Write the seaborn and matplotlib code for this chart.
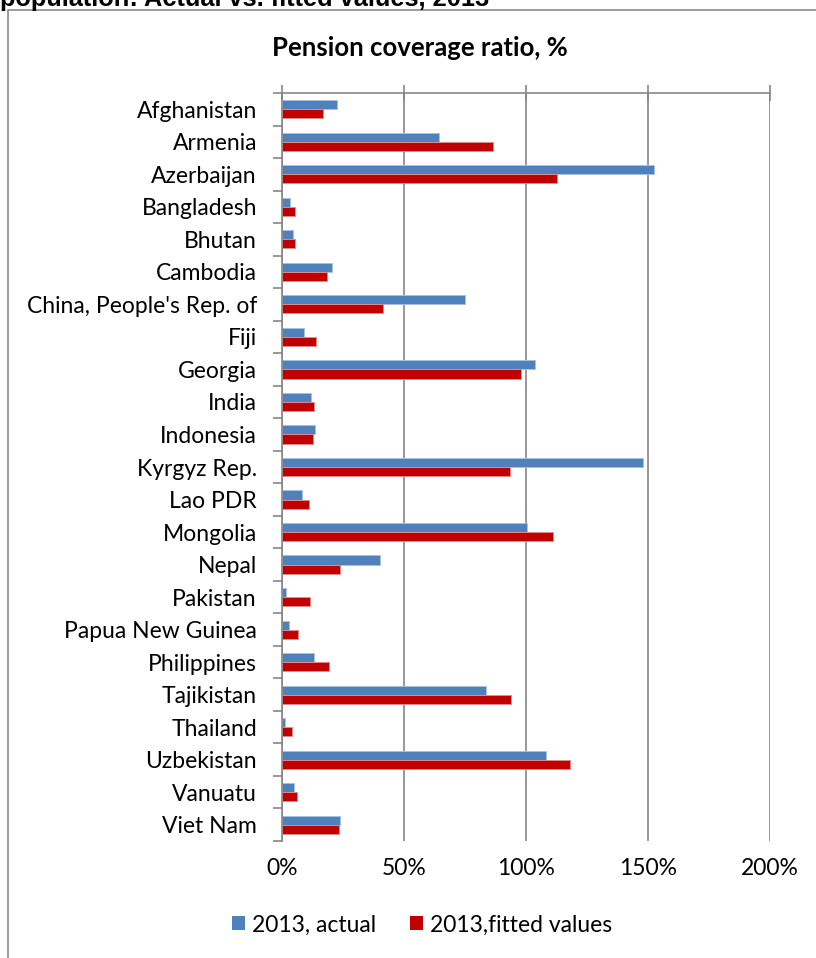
import matplotlib
matplotlib.use("Agg")
import matplotlib.pyplot as plt
import seaborn as sns
import pandas as pd
from matplotlib.patches import Patch, Rectangle
from matplotlib.ticker import FixedLocator

# Pension coverage ratio (%) by country, 2013
countries = [
    "Afghanistan", "Armenia", "Azerbaijan", "Bangladesh", "Bhutan", "Cambodia",
    "China, People's Rep. of", "Fiji", "Georgia", "India", "Indonesia",
    "Kyrgyz Rep.", "Lao PDR", "Mongolia", "Nepal", "Pakistan",
    "Papua New Guinea", "Philippines", "Tajikistan", "Thailand", "Uzbekistan",
    "Vanuatu", "Viet Nam",
]
actual = [22.7, 64.2, 152.6, 3.3, 4.7, 20.3, 75.1, 9.0, 103.5, 12.0, 13.5,
          147.9, 8.0, 100.6, 40.3, 1.7, 2.8, 13.0, 83.8, 1.1, 108.1, 4.8, 23.6]
fitted = [16.7, 86.5, 112.7, 5.4, 5.5, 18.4, 41.2, 13.9, 98.0, 13.2, 12.5,
          93.3, 11.2, 111.1, 23.8, 11.4, 6.4, 19.1, 93.7, 4.1, 118.1, 6.0, 23.3]
series_names = ["2013, actual", "2013,fitted values"]
series_colors = ["#4F81BD", "#C00000"]
edge_colors = ["#A9C1DF", "#E38A8A"]
x_ticks = [0, 50, 100, 150, 200]
x_tick_labels = ["0%", "50%", "100%", "150%", "200%"]

sns.set_theme(style="white")
plt.rcParams["font.family"] = ["Lato", "DejaVu Sans"]
plt.rcParams["text.color"] = "black"

GRID = "#868686"
FS = 16.5
W, H = 816, 958
fig = plt.figure(figsize=(W / 100, H / 100), dpi=100)
ax = fig.add_axes([282 / W, 1 - 841 / H, (770 - 282) / W, (841 - 93) / H])

df = pd.DataFrame({
    "Country": countries * 2,
    "Coverage": actual + fitted,
    "Series": [series_names[0]] * len(countries) + [series_names[1]] * len(countries),
})

sns.barplot(
    data=df, y="Country", x="Coverage", hue="Series",
    order=countries, hue_order=series_names,
    palette=dict(zip(series_names, series_colors)),
    orient="h", width=0.56, gap=0, saturation=1, legend=False, ax=ax,
)

# light outline on each bar
n = len(countries)
for i, bar in enumerate(ax.patches):
    k = 0 if i < n else 1
    bar.set_edgecolor(edge_colors[k])
    bar.set_linewidth(0.7)

ax.set_xlim(0, 200)
ax.set_ylim(n - 0.5, -0.5)
ax.set_xlabel("")
ax.set_ylabel("")

# value axis: gridlines, line and cross ticks on top, labels below
ax.set_xticks(x_ticks)
ax.set_xticklabels(x_tick_labels)
ax.xaxis.grid(True, color=GRID, linewidth=1.2)
ax.set_axisbelow(True)
ax.tick_params(axis="x", which="major", top=True, bottom=False,
               labeltop=False, labelbottom=True, direction="inout",
               length=11, width=1.2, color=GRID, pad=7, labelsize=FS,
               labelcolor="black")

# category axis: ticks between categories
ax.yaxis.set_minor_locator(FixedLocator([i - 0.5 for i in range(n + 1)]))
ax.tick_params(axis="y", which="major", length=0, pad=18, labelsize=FS,
               labelcolor="black")
ax.tick_params(axis="y", which="minor", left=True, length=6.5, width=1.2,
               color=GRID, direction="out")

for side in ("right", "bottom"):
    ax.spines[side].set_visible(False)
for side in ("top", "left"):
    ax.spines[side].set_color(GRID)
    ax.spines[side].set_linewidth(1.2)

fig.text(420 / W, 1 - 48 / H, "Pension coverage ratio, %", ha="center",
         va="center", fontweight="bold", fontsize=18.5, color="black")

fig.text(0, 1 - 6 / H, "population: Actual vs. fitted values, 2013",
         ha="left", va="baseline", family=["Liberation Sans", "DejaVu Sans"],
         fontweight="bold", fontsize=18.3, color="black")

# chart frame
fig.add_artist(Rectangle((8 / W, -0.5), 2, (1 - 10 / H) + 0.5,
                         transform=fig.transFigure, fill=False,
                         edgecolor="#8C8C8C", linewidth=1.2))

handles = [Patch(facecolor=c, edgecolor="none", label=s)
           for s, c in zip(series_names, series_colors)]
leg = fig.legend(handles=handles, loc="center", bbox_to_anchor=(422 / W, 1 - 925 / H),
                 ncol=2, frameon=False, fontsize=FS, handlelength=0.55,
                 handleheight=0.55, handletextpad=0.3, columnspacing=1.5)
for t in leg.get_texts():
    t.set_color("black")

fig.savefig("out.png", dpi=100)
